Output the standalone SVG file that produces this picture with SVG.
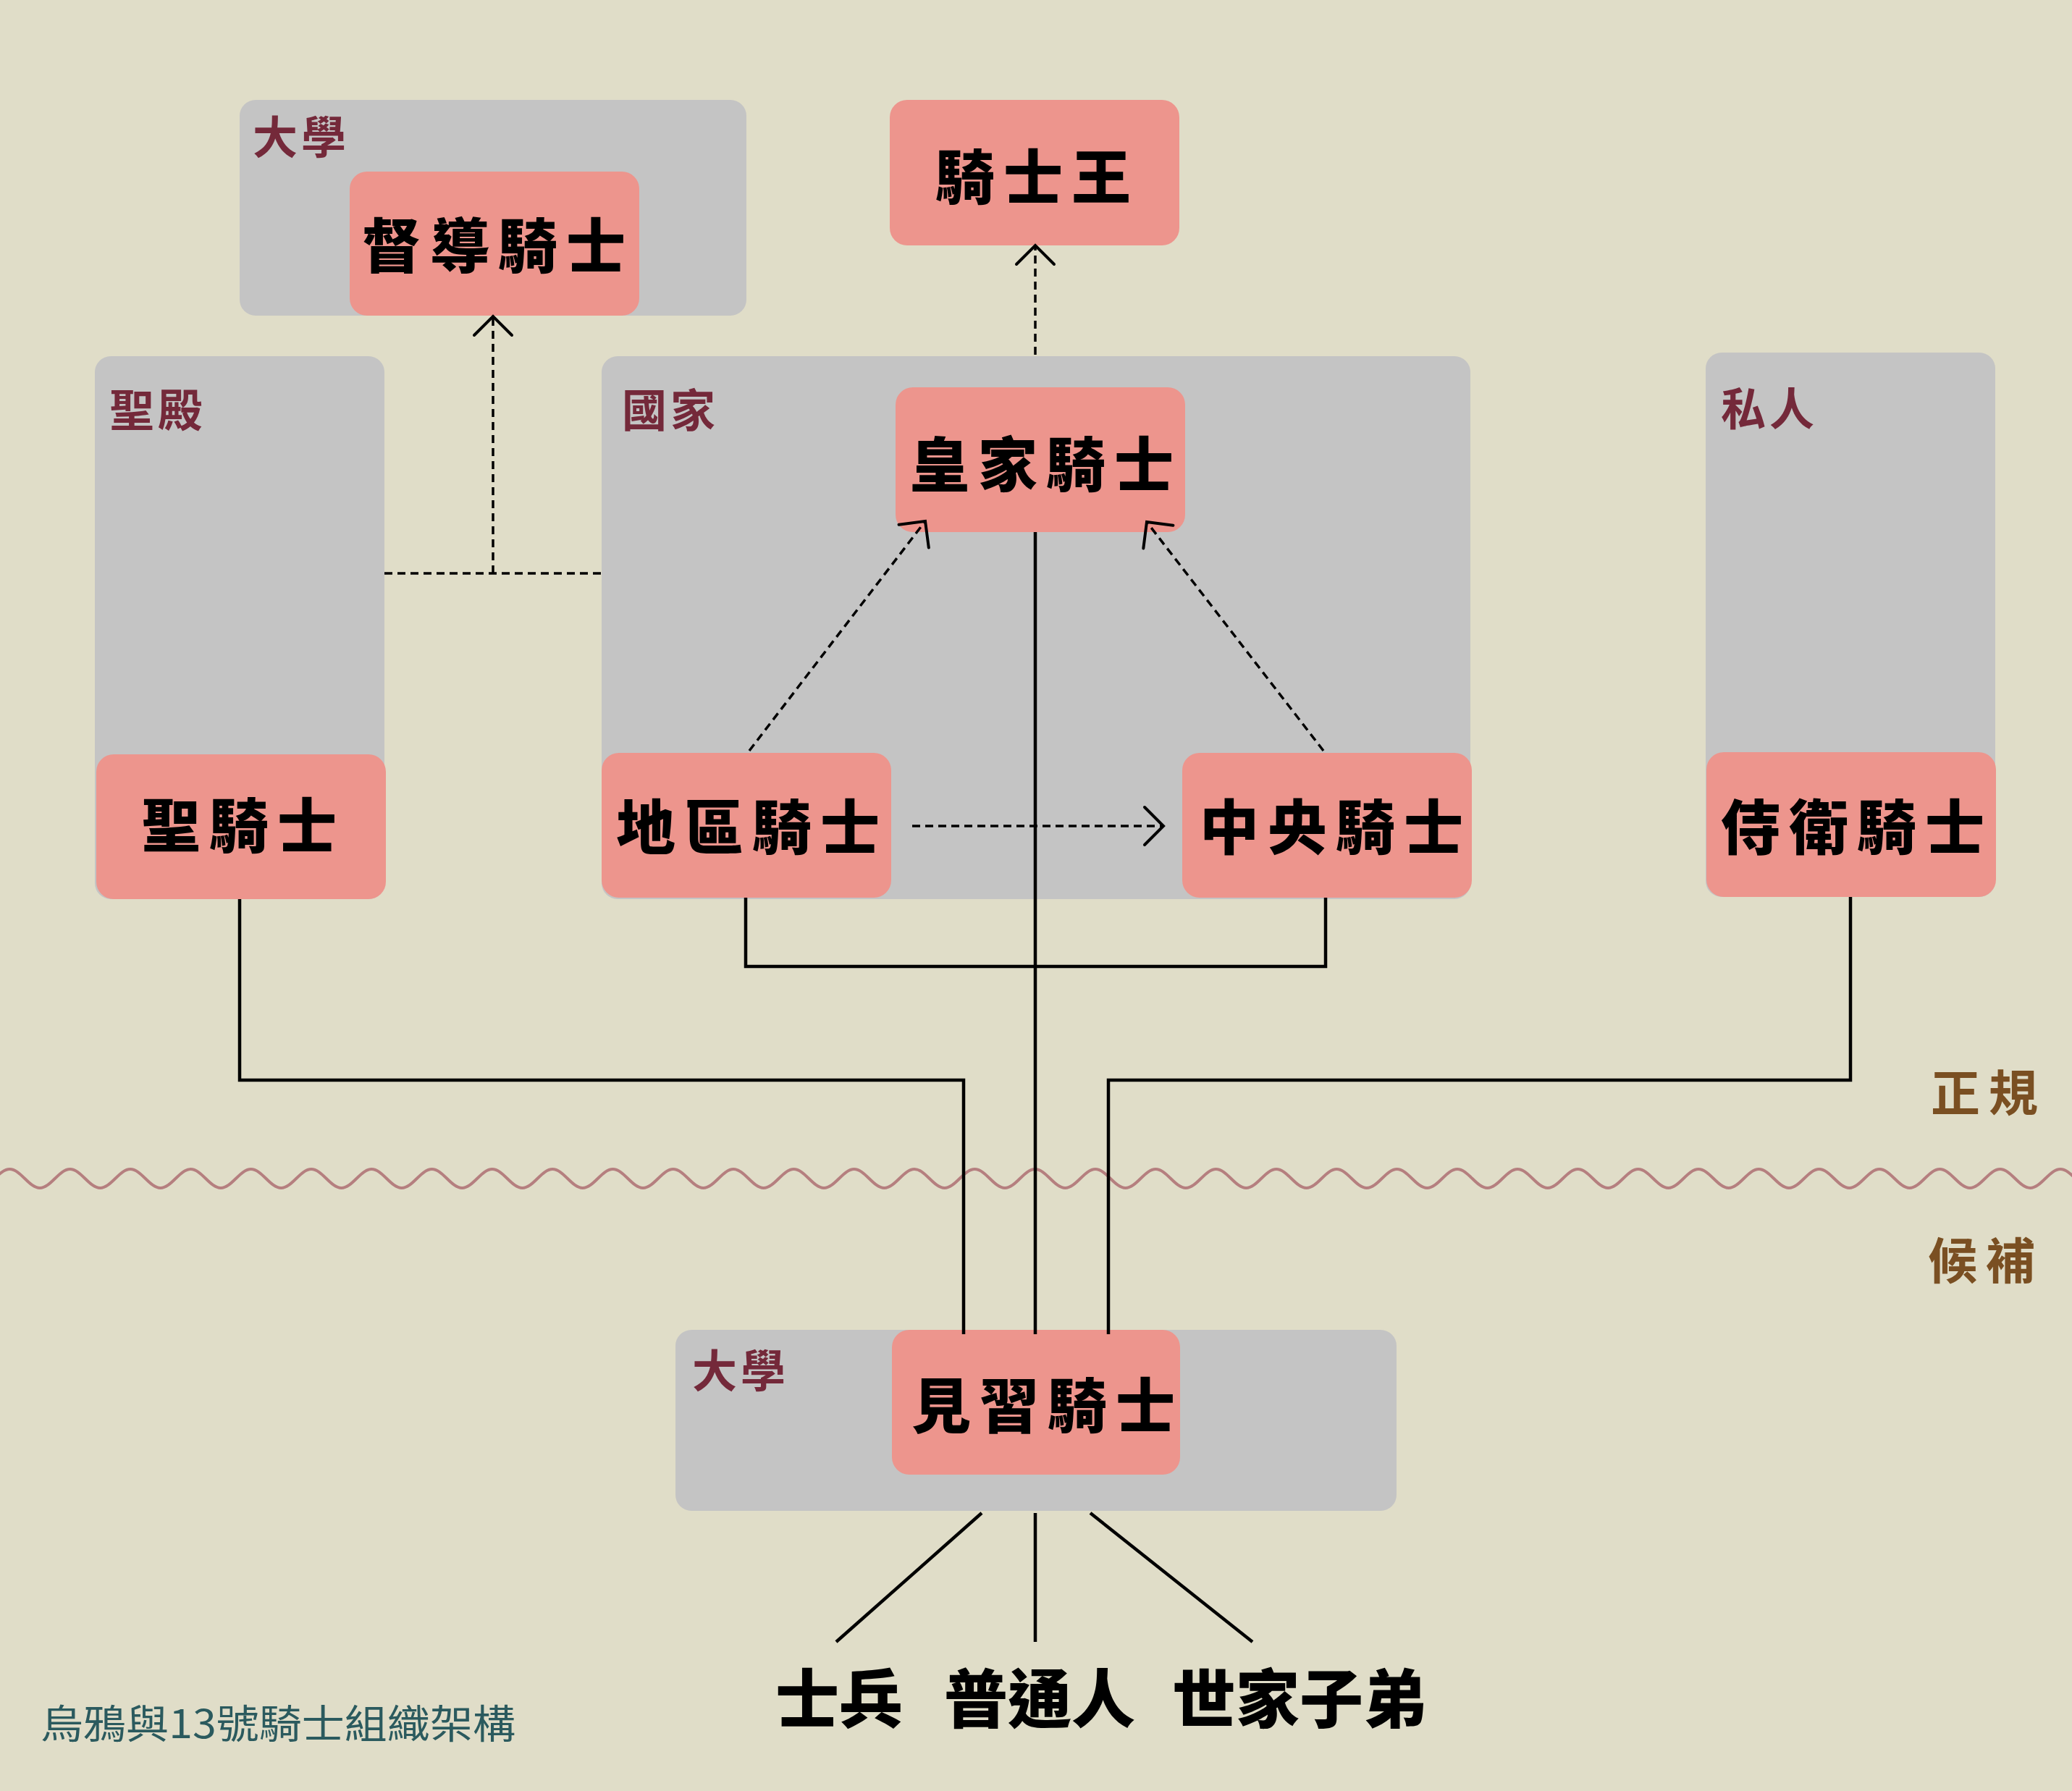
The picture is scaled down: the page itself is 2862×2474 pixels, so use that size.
<svg xmlns="http://www.w3.org/2000/svg" width="2862" height="2474" viewBox="0 0 2862 2474">
<style>
.bg{fill:#e0ddc8}
.grp{fill:#c4c4c4}
.node{fill:#ed958d}
.nt{font-family:"Noto Sans CJK TC","Noto Sans CJK SC",sans-serif;font-weight:900;font-size:82px;fill:#000;letter-spacing:12px;text-anchor:middle}
.gl{font-family:"Noto Sans CJK TC","Noto Sans CJK SC",sans-serif;font-weight:700;font-size:62px;fill:#74293a;letter-spacing:5px}
.side{font-family:"Noto Sans CJK TC","Noto Sans CJK SC",sans-serif;font-weight:700;font-size:68px;fill:#7a4f22;letter-spacing:12px}
.src{font-family:"Noto Sans CJK TC","Noto Sans CJK SC",sans-serif;font-weight:900;font-size:88px;fill:#000;text-anchor:middle}
.title{font-family:"Noto Sans CJK TC","Noto Sans CJK SC",sans-serif;font-weight:400;font-size:55px;fill:#2b5a5e}
.solid{fill:none;stroke:#000;stroke-width:4.5}
.dash{fill:none;stroke:#000;stroke-width:3.5;stroke-dasharray:11 7}
.wave{fill:none;stroke:#b57f7f;stroke-width:4}
</style>
<defs>
<marker id="arr" markerUnits="userSpaceOnUse" viewBox="-30 -30 60 60" markerWidth="60" markerHeight="60" refX="0" refY="0" orient="auto" overflow="visible">
<path d="M-26,-26 L0,0 L-26,26" fill="none" stroke="#000" stroke-width="4" stroke-linecap="round"/>
</marker>
</defs>
<rect class="bg" x="0" y="0" width="2862" height="2474"/>

<g id="wave-divider">
<path class="wave" d="M-28.25,1641 c15,0 26.66,-26 41.655,-26 s26.66,26 41.655,26 s26.66,-26 41.655,-26 s26.66,26 41.655,26 s26.66,-26 41.655,-26 s26.66,26 41.655,26 s26.66,-26 41.655,-26 s26.66,26 41.655,26 s26.66,-26 41.655,-26 s26.66,26 41.655,26 s26.66,-26 41.655,-26 s26.66,26 41.655,26 s26.66,-26 41.655,-26 s26.66,26 41.655,26 s26.66,-26 41.655,-26 s26.66,26 41.655,26 s26.66,-26 41.655,-26 s26.66,26 41.655,26 s26.66,-26 41.655,-26 s26.66,26 41.655,26 s26.66,-26 41.655,-26 s26.66,26 41.655,26 s26.66,-26 41.655,-26 s26.66,26 41.655,26 s26.66,-26 41.655,-26 s26.66,26 41.655,26 s26.66,-26 41.655,-26 s26.66,26 41.655,26 s26.66,-26 41.655,-26 s26.66,26 41.655,26 s26.66,-26 41.655,-26 s26.66,26 41.655,26 s26.66,-26 41.655,-26 s26.66,26 41.655,26 s26.66,-26 41.655,-26 s26.66,26 41.655,26 s26.66,-26 41.655,-26 s26.66,26 41.655,26 s26.66,-26 41.655,-26 s26.66,26 41.655,26 s26.66,-26 41.655,-26 s26.66,26 41.655,26 s26.66,-26 41.655,-26 s26.66,26 41.655,26 s26.66,-26 41.655,-26 s26.66,26 41.655,26 s26.66,-26 41.655,-26 s26.66,26 41.655,26 s26.66,-26 41.655,-26 s26.66,26 41.655,26 s26.66,-26 41.655,-26 s26.66,26 41.655,26 s26.66,-26 41.655,-26 s26.66,26 41.655,26 s26.66,-26 41.655,-26 s26.66,26 41.655,26 s26.66,-26 41.655,-26 s26.66,26 41.655,26 s26.66,-26 41.655,-26 s26.66,26 41.655,26 s26.66,-26 41.655,-26 s26.66,26 41.655,26 s26.66,-26 41.655,-26 s26.66,26 41.655,26 s26.66,-26 41.655,-26 s26.66,26 41.655,26 s26.66,-26 41.655,-26 s26.66,26 41.655,26 s26.66,-26 41.655,-26 s26.66,26 41.655,26 s26.66,-26 41.655,-26"/>
</g>

<g id="group-university-top">
<rect class="grp" x="331" y="138" width="700" height="298" rx="22"/>
<text class="gl" x="349" y="213">大學</text>
</g>
<g id="group-temple">
<rect class="grp" x="131" y="492" width="400" height="750" rx="22"/>
<text class="gl" x="151" y="590">聖殿</text>
</g>
<g id="group-nation">
<rect class="grp" x="831" y="492" width="1200" height="750" rx="22"/>
<text class="gl" x="859" y="590">國家</text>
</g>
<g id="group-private">
<rect class="grp" x="2356" y="487" width="400" height="752" rx="22"/>
<text class="gl" x="2377" y="588">私人</text>
</g>
<g id="group-university-bottom">
<rect class="grp" x="933" y="1837" width="996" height="250" rx="22"/>
<text class="gl" x="956" y="1917">大學</text>
</g>

<g id="node-dudao">
<rect class="node" x="483" y="237" width="400" height="199" rx="24"/>
<text class="nt" x="688" y="370">督導騎士</text>
</g>
<g id="node-king">
<rect class="node" x="1229" y="138" width="400" height="201" rx="24"/>
<text class="nt" x="1433" y="275">騎士王</text>
</g>
<g id="node-royal">
<rect class="node" x="1237" y="535" width="400" height="200" rx="24"/>
<text class="nt" x="1445" y="672">皇家騎士</text>
</g>
<g id="node-holy">
<rect class="node" x="133" y="1042" width="400" height="200" rx="24"/>
<text class="nt" x="336" y="1171">聖騎士</text>
</g>
<g id="node-regional">
<rect class="node" x="831" y="1040" width="400" height="200" rx="24"/>
<text class="nt" x="1039" y="1173">地區騎士</text>
</g>
<g id="node-central">
<rect class="node" x="1633" y="1040" width="400" height="200" rx="24"/>
<text class="nt" x="1845" y="1173">中央騎士</text>
</g>
<g id="node-guard">
<rect class="node" x="2357" y="1039" width="400" height="200" rx="24"/>
<text class="nt" x="2565" y="1173">侍衛騎士</text>
</g>
<g id="node-apprentice">
<rect class="node" x="1232" y="1837" width="398" height="200" rx="24"/>
<text class="nt" x="1447" y="1972">見習騎士</text>
</g>

<g id="connectors">
<path class="solid" d="M1430,735 V1843"/>
<path class="solid" d="M1030,1240 V1335 H1831 V1240"/>
<path class="solid" d="M331,1242 V1492 H1331 V1843"/>
<path class="solid" d="M2556,1239 V1492 H1531 V1843"/>
<path class="solid" d="M1356,2090 L1155,2268"/>
<path class="solid" d="M1430,2090 V2268"/>
<path class="solid" d="M1506,2090 L1730,2268"/>
<path class="dash" d="M531,792 H831"/>
<path class="dash" d="M681,792 V437" marker-end="url(#arr)"/>
<path class="dash" d="M1430,490 V339" marker-end="url(#arr)"/>
<path class="dash" d="M1035,1037 L1278,720" marker-end="url(#arr)"/>
<path class="dash" d="M1828,1037 L1584,721" marker-end="url(#arr)"/>
<path class="dash" d="M1260,1141 H1607" marker-end="url(#arr)"/>
</g>

<g id="sources">
<text class="src" x="1159" y="2379">士兵</text>
<text class="src" x="1436" y="2379">普通人</text>
<text class="src" x="1795" y="2379">世家子弟</text>
</g>

<g id="tier-labels">
<text class="side" x="2667" y="1535">正規</text>
<text class="side" x="2663" y="1767">候補</text>
</g>

<text class="title" x="56" y="2401" textLength="656" lengthAdjust="spacingAndGlyphs">烏鴉與13號騎士組織架構</text>
</svg>
